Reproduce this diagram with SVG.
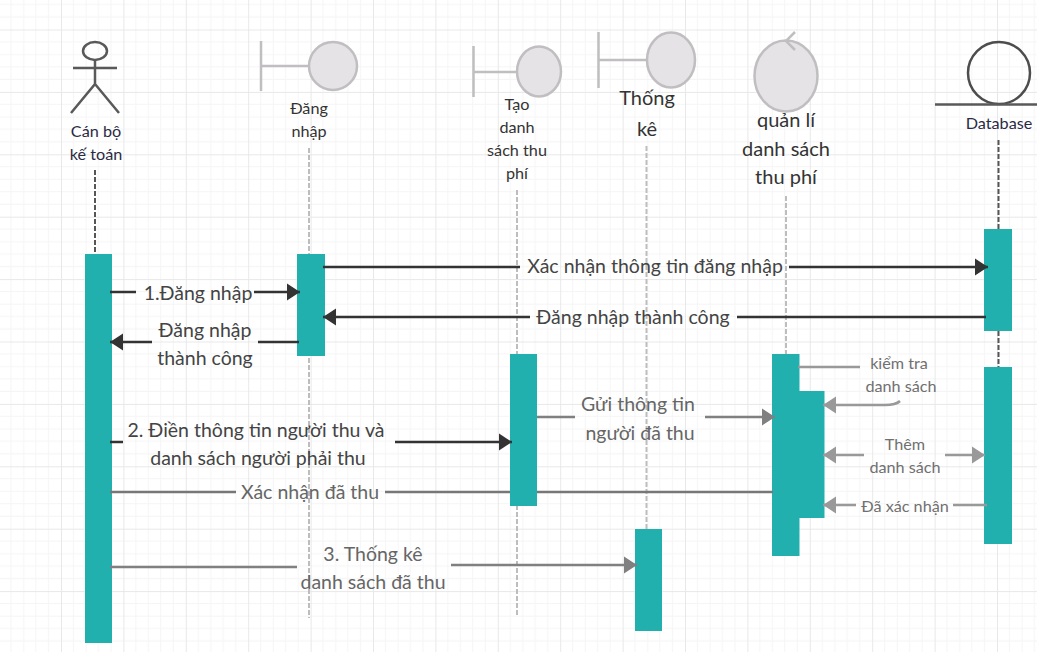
<svg xmlns="http://www.w3.org/2000/svg" width="1037" height="652" viewBox="0 0 1037 652">
<style>
text{font-family:Lato,"Noto Sans","Liberation Sans",sans-serif;text-anchor:middle}
.lb{fill:#333;font-size:16.200px}.nv{fill:#2a2a45}.big{font-size:20px}
.m1{fill:#444;font-size:19.500px}.m2{fill:#666;font-size:19.500px}.m3{fill:#707070;font-size:16.200px}
.ll{fill:none;stroke-width:2;stroke-dasharray:5 2}
.lg{stroke:#bdbdbd}.ld{stroke:#555}
.bar{fill:#22b0af}
.bd{fill:#e6e3e6;stroke:#c0bec0;stroke-width:2.500}
.bl{fill:none;stroke:#c0bec0;stroke-width:2.500}
.ac{fill:none;stroke:#595959;stroke-width:2.500}
.c1{fill:none;stroke:#333;stroke-width:2.500}.c2{fill:none;stroke:#808080;stroke-width:2.500}.c3{fill:none;stroke:#999;stroke-width:2.500}
</style>
<defs>
<pattern id="grid" x="-1.400" y="-32.900" width="62.400" height="62.400" patternUnits="userSpaceOnUse">
<path d="M12.500 0V62.400M25 0V62.400M37.400 0V62.400M49.900 0V62.400M0 12.500H62.400M0 25H62.400M0 37.400H62.400M0 49.900H62.400" fill="none" stroke="#f5f5f5" stroke-width="1"/>
<path d="M0 0V62.400M0 0H62.400" fill="none" stroke="#e8e8e8" stroke-width="2"/>
</pattern>
<marker id="a1" markerUnits="userSpaceOnUse" markerWidth="14" markerHeight="18" refX="13" refY="9" orient="auto"><path d="M0 .5L13 9L0 17.500Z" fill="#333"/></marker>
<marker id="a2" markerUnits="userSpaceOnUse" markerWidth="14" markerHeight="18" refX="13" refY="9" orient="auto"><path d="M0 .5L13 9L0 17.500Z" fill="#808080"/></marker>
<marker id="a3" markerUnits="userSpaceOnUse" markerWidth="14" markerHeight="18" refX="13" refY="9" orient="auto"><path d="M0 .5L13 9L0 17.500Z" fill="#999"/></marker>
</defs>
<rect width="1037" height="652" fill="#fff"/>
<rect width="1037" height="652" fill="url(#grid)"/>
<g id="actor">
<path class="ll ld" d="M95 170V254"/>
<ellipse class="ac" cx="95" cy="51" rx="12" ry="9"/>
<path class="ac" d="M73 68H117M95 60V84L71 113M95 84L119 113"/>
<text class="lb nv" x="96" y="137">Cán bộ</text>
<text class="lb nv" x="96" y="160">kế toán</text>
<rect class="bar" x="85" y="254" width="27" height="389"/>
</g>
<g id="dang-nhap">
<path class="ll lg" d="M309 148V618"/>
<path class="bl" d="M261 41V91M261 66H309"/>
<circle class="bd" cx="333" cy="66" r="24"/>
<text class="lb" x="309" y="114">Đăng</text>
<text class="lb" x="309" y="137">nhập</text>
<rect class="bar" x="297" y="254" width="28" height="102"/>
</g>
<g id="tao-danh-sach">
<path class="ll lg" d="M517 190V616"/>
<path class="bl" d="M473.500 46V97M473.500 72H517"/>
<ellipse class="bd" cx="539" cy="71.500" rx="22" ry="25"/>
<text class="lb" x="517" y="110">Tạo</text>
<text class="lb" x="517" y="133">danh</text>
<text class="lb" x="517" y="156">sách thu</text>
<text class="lb" x="517" y="179">phí</text>
<rect class="bar" x="510" y="354" width="27" height="152"/>
</g>
<g id="thong-ke">
<path class="ll lg" d="M646.500 146V530"/>
<path class="bl" d="M598.500 32V88M598.500 60H647"/>
<ellipse class="bd" cx="671" cy="60" rx="24" ry="27.500"/>
<text class="lb big" x="647" y="105">Thống</text>
<text class="lb big" x="647" y="136">kê</text>
<rect class="bar" x="635" y="529" width="27" height="102"/>
</g>
<g id="quan-li">
<path class="ll lg" d="M786 196V354"/>
<ellipse class="bd" cx="786" cy="76" rx="31.500" ry="35.500"/>
<path class="bl" d="M795 32L786 41L795 50"/>
<text class="lb big" x="786" y="127">quản lí</text>
<text class="lb big" x="786" y="156">danh sách</text>
<text class="lb big" x="786" y="184">thu phí</text>
<path class="bar" d="M772 354H799.500V391H824.500V518H799.500V556H772Z"/>
</g>
<g id="database">
<path class="ll ld" d="M998.500 140V229M998.500 331V367"/>
<circle cx="999" cy="73" r="31" fill="none" stroke="#4d4d4d" stroke-width="2.500"/>
<path d="M935 104.500H1037" fill="none" stroke="#595959" stroke-width="2.500"/>
<text class="lb nv" x="999" y="129">Database</text>
<rect class="bar" x="984" y="229" width="28" height="102"/>
<rect class="bar" x="984" y="367" width="28" height="177"/>
</g>
<g id="connectors">
<path class="c1" d="M323 267H520"/>
<path class="c1" d="M789 267H988" marker-end="url(#a1)"/>
<path class="c1" d="M986 317H737"/>
<path class="c1" d="M530 317H323" marker-end="url(#a1)"/>
<path class="c1" d="M110 292H136"/>
<path class="c1" d="M254 292H300" marker-end="url(#a1)"/>
<path class="c1" d="M299 342H258"/>
<path class="c1" d="M152 342H110" marker-end="url(#a1)"/>
<path class="c1" d="M110 442H123"/>
<path class="c1" d="M395 442H512" marker-end="url(#a1)"/>
<path class="c2" d="M110 492H236M385 492H510M537 492H773" style="stroke:#777"/>
<path class="c2" d="M537 417H575"/>
<path class="c2" d="M705 417H775" marker-end="url(#a2)"/>
<path class="c2" d="M110 567H297"/>
<path class="c2" d="M451 565H637" marker-end="url(#a2)"/>
<path class="c3" d="M798 367H860"/>
<path class="c3" d="M900 401Q896 405 885 405H823" marker-end="url(#a3)"/>
<path class="c3" d="M864 455H823" marker-end="url(#a3)"/>
<path class="c3" d="M945 455H985" marker-end="url(#a3)"/>
<path class="c3" d="M856 505H823" marker-end="url(#a3)"/>
<path class="c3" d="M953 505H987"/>
</g>
<g id="labels">
<text class="m1" x="655" y="273">Xác nhận thông tin đăng nhập</text>
<text class="m1" x="633" y="324">Đăng nhập thành công</text>
<text class="m1" x="198" y="300">1.Đăng nhập</text>
<text class="m1" x="205" y="337">Đăng nhập</text>
<text class="m1" x="205" y="365">thành công</text>
<text class="m1" x="256" y="437">2. Điền thông tin người thu và</text>
<text class="m1" x="258" y="465">danh sách người phải thu</text>
<text class="m2" x="310" y="499">Xác nhận đã thu</text>
<text class="m2" x="638" y="411">Gửi thông tin</text>
<text class="m2" x="640" y="440">người đã thu</text>
<text class="m2" x="373" y="561">3. Thống kê</text>
<text class="m2" x="373" y="589">danh sách đã thu</text>
<text class="m3" x="899" y="369">kiểm tra</text>
<text class="m3" x="901" y="392">danh sách</text>
<text class="m3" x="905" y="450">Thêm</text>
<text class="m3" x="905" y="473">danh sách</text>
<text class="m3" x="905" y="512">Đã xác nhận</text>
</g>
</svg>
